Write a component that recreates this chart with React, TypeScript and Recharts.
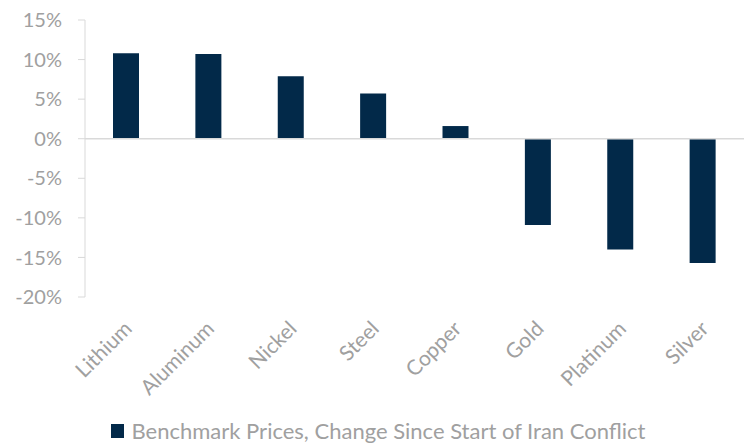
import * as React from 'react';
import {
  Bar,
  BarChart,
  Legend,
  ReferenceLine,
  XAxis,
  YAxis,
} from 'recharts';

// Benchmark price change since start of Iran conflict, in %.
const metals = ['Lithium', 'Aluminum', 'Nickel', 'Steel', 'Copper', 'Gold', 'Platinum', 'Silver'];
const changePct = [10.8, 10.7, 7.9, 5.7, 1.6, -10.9, -14.0, -15.7];
const yTicks = [-20, -15, -10, -5, 0, 5, 10, 15];

const SERIES_NAME = 'Benchmark Prices, Change Since Start of Iran Conflict';
const BAR_COLOR = '#022949';
const AXIS_LINE = '#d9d9d9';
const LABEL_COLOR = '#a0a0a0';
const FONT = 'Lato, "Open Sans", sans-serif';

const data = metals.map((m, i) => ({ metal: m, value: changePct[i] }));

function MetalTick({ x, y, payload }: { x: number; y: number; payload: { value: string } }) {
  return (
    <g transform={`translate(${x + 7},${y + 31}) rotate(-45)`}>
      <text textAnchor="end" fill={LABEL_COLOR} fontSize={21} fontFamily={FONT}>
        {payload.value}
      </text>
    </g>
  );
}

function LegendBox() {
  return (
    <div
      style={{
        display: 'flex',
        justifyContent: 'center',
        alignItems: 'center',
        paddingLeft: 12,
        paddingTop: 20,
        fontFamily: FONT,
        fontSize: 22,
        color: LABEL_COLOR,
      }}
    >
      <span style={{ display: 'inline-block', width: 13, height: 14, background: BAR_COLOR, marginRight: 8 }} />
      {SERIES_NAME}
    </div>
  );
}

export default function App() {
  return (
    <div style={{ position: 'absolute', left: 0, top: 0, background: '#fff' }}>
      <BarChart width={751} height={443} data={data} margin={{ top: 20, right: 7, left: 0, bottom: 0 }}>
        <XAxis
          dataKey="metal"
          axisLine={false}
          tickLine={false}
          tickSize={0}
          height={100}
          interval={0}
          tick={MetalTick as any}
        />
        <YAxis
          domain={[-20, 15]}
          ticks={yTicks}
          width={85}
          stroke={AXIS_LINE}
          tickSize={7}
          tickMargin={16}
          tick={{ fill: LABEL_COLOR, fontSize: 20, fontFamily: FONT }}
          tickFormatter={(v: number) => `${v}%`}
          interval={0}
        />
        <ReferenceLine y={0} stroke={AXIS_LINE} strokeWidth={1.5} />
        <Legend verticalAlign="bottom" height={46} content={<LegendBox />} />
        <Bar dataKey="value" name={SERIES_NAME} fill={BAR_COLOR} barSize={26} isAnimationActive={false} />
      </BarChart>
    </div>
  );
}
